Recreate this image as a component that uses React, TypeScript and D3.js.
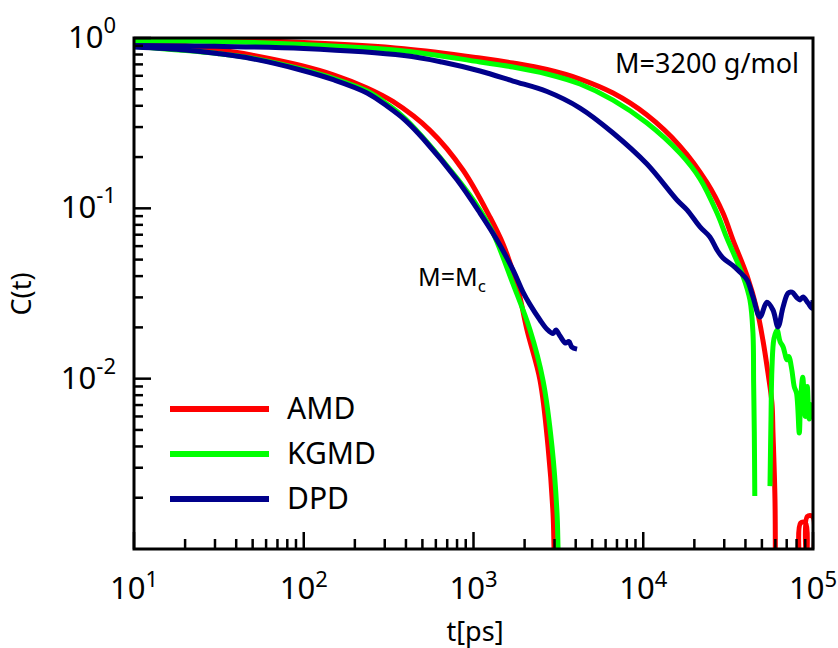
import React from "react";
import * as d3 from "d3";

type Pt = [number, number | null];

// M = Mc set
const amdShort: Pt[] = [
  [10, 0.95], [20, 0.904], [31, 0.856], [49, 0.795], [96, 0.69], [151, 0.606], [236, 0.509],
  [335, 0.424], [554, 0.287], [867, 0.168], [1250, 0.0888], [1492, 0.0617], [1804, 0.0355],
  [2066, 0.0193], [2465, 0.0098], [2748, 0.004], [2940, 0.00163], [2980, 0.00103], [3000, 0.0008],
];
const kgmdShort: Pt[] = [
  [10, 0.891], [31, 0.811], [49, 0.763], [96, 0.658], [151, 0.578], [236, 0.488], [309, 0.41],
  [395, 0.337], [800, 0.15], [1092, 0.0978], [1303, 0.0717], [1709, 0.036], [2153, 0.0193],
  [2566, 0.0098], [2900, 0.004], [3104, 0.00163], [3147, 0.00103], [3170, 0.0008],
];
const dpdShort: Pt[] = [
  [10, 0.885], [20, 0.85], [31, 0.811], [49, 0.758], [96, 0.649], [151, 0.567], [236, 0.476],
  [309, 0.399], [395, 0.33], [504, 0.257], [800, 0.147], [1092, 0.0938], [1375, 0.0652],
  [1709, 0.0435], [1958, 0.0322], [2153, 0.0272], [2465, 0.0221], [2711, 0.0195],
  [2940, 0.0184], [3060, 0.0193], [3234, 0.0178], [3480, 0.0162], [3650, 0.0165],
  [3800, 0.0153], [4074, 0.0149],
];

// M = 3200 g/mol set
const amdLong: Pt[] = [
  [10, 0.985], [30, 0.975], [100, 0.94], [390, 0.865], [1092, 0.763], [1709, 0.713],
  [2711, 0.653], [4240, 0.574], [6640, 0.475], [10520, 0.353], [16450, 0.232], [23800, 0.141],
  [29500, 0.0938], [33800, 0.0651], [40900, 0.0401], [46800, 0.0253], [50700, 0.0168],
  [54300, 0.0108], [57300, 0.0072], [58100, 0.00485], [59700, 0.00197], [60000, 0.0008],
  [70000, null], [83500, 0.0008], [84500, 0.00142], [90500, 0.00142], [91500, 0.0008],
  [92500, 0.00155], [99500, 0.00155], [100000, 0.0008],
];
const kgmdLong: Pt[] = [
  [10, 0.965], [30, 0.955], [100, 0.915], [390, 0.84], [1092, 0.723], [1709, 0.676],
  [2711, 0.615], [4240, 0.537], [6640, 0.432], [10520, 0.317], [16450, 0.211], [21600, 0.149],
  [27200, 0.0938], [31100, 0.0669], [38700, 0.04], [42500, 0.029], [44300, 0.0185],
  [44700, 0.0094], [45100, 0.0049], [45400, 0.00205], [50000, null], [55800, 0.00234],
  [56560, 0.0058], [57300, 0.0115], [58900, 0.0172], [61400, 0.0193], [64000, 0.0165],
  [66600, 0.0154], [70300, 0.0129], [72000, 0.0135], [75000, 0.0113], [77500, 0.009],
  [80000, 0.0082], [83000, 0.0048], [84500, 0.0075], [87000, 0.0102], [90000, 0.006],
  [92500, 0.009], [95000, 0.0058], [98000, 0.0068], [100000, 0.0072],
];
const dpdLong: Pt[] = [
  [10, 0.905], [30, 0.893], [100, 0.868], [390, 0.789], [652, 0.723], [1092, 0.64],
  [1709, 0.559], [2711, 0.485], [4240, 0.388], [6640, 0.277], [10520, 0.182], [15800, 0.112],
  [18100, 0.098], [21600, 0.0778], [24700, 0.0679], [27200, 0.057], [29500, 0.0511],
  [33800, 0.0461], [37200, 0.0421], [40900, 0.038], [44300, 0.0302], [48700, 0.023],
  [53500, 0.0281], [58100, 0.0253], [62200, 0.0201], [66600, 0.0263], [71300, 0.0318],
  [75200, 0.0322], [80600, 0.0298], [83800, 0.029], [87300, 0.0302], [93500, 0.0278],
  [98700, 0.0259], [100000, 0.029],
];

const xTickExps = [1, 2, 3, 4, 5];
const yTickExps = [0, -1, -2];
const legendNames = ["AMD", "KGMD", "DPD"];
const seriesColors = ["#ff0000", "#00ff00", "#00008b"];

const W = 838, H = 648;
const L = 134, R = 813, T = 38, B = 549;
const FONT = "'Noto Sans', 'DejaVu Sans', sans-serif";

export default function App() {
  const x = d3.scaleLog().domain([10, 1e5]).range([L, R]);
  const y = d3.scaleLog().domain([1e-3, 1]).range([B, T]);
  const line = d3
    .line<Pt>()
    .defined((d) => d[1] != null && (d[1] as number) > 0)
    .x((d) => x(d[0]))
    .y((d) => y(d[1] as number))
    .curve(d3.curveCatmullRom.alpha(0.5));

  const series: { data: Pt[]; color: string }[] = [
    { data: amdShort, color: seriesColors[0] },
    { data: amdLong, color: seriesColors[0] },
    { data: kgmdShort, color: seriesColors[1] },
    { data: kgmdLong, color: seriesColors[1] },
    { data: dpdShort, color: seriesColors[2] },
    { data: dpdLong, color: seriesColors[2] },
  ];

  const xMinor: number[] = [];
  for (let e = 1; e < 5; e++) for (let k = 2; k <= 9; k++) xMinor.push(k * Math.pow(10, e));
  const yMinor: number[] = [];
  for (let e = -3; e < 0; e++) for (let k = 2; k <= 9; k++) yMinor.push(k * Math.pow(10, e));

  return (
    <svg width={W} height={H} style={{ position: "absolute", left: 0, top: 0, background: "#fff" }} fontFamily={FONT}>
      <defs>
        <clipPath id="plotclip">
          <rect x={L} y={T} width={R - L} height={B - T} />
        </clipPath>
      </defs>
      <rect x={0} y={0} width={W} height={H} fill="#fff" />
      <g clipPath="url(#plotclip)">
        {series.map((s, i) => (
          <path key={i} d={line(s.data) || ""} fill="none" stroke={s.color} strokeWidth={5} strokeLinejoin="round" />
        ))}
      </g>
      {xMinor.map((v, i) => (
        <line key={"xm" + i} x1={x(v)} x2={x(v)} y1={B} y2={B - 10} stroke="#000" strokeWidth={2.5} />
      ))}
      {xTickExps.map((e) => (
        <line key={"xM" + e} x1={x(Math.pow(10, e))} x2={x(Math.pow(10, e))} y1={B} y2={B - 17} stroke="#000" strokeWidth={2.5} />
      ))}
      {yMinor.map((v, i) => (
        <line key={"ym" + i} x1={L} x2={L + 9} y1={y(v)} y2={y(v)} stroke="#000" strokeWidth={2.5} />
      ))}
      {yTickExps.map((e) => (
        <line key={"yM" + e} x1={L} x2={L + 17} y1={y(Math.pow(10, e))} y2={y(Math.pow(10, e))} stroke="#000" strokeWidth={2.5} />
      ))}
      <rect x={L} y={T} width={R - L} height={B - T} fill="none" stroke="#000" strokeWidth={3} />
      {xTickExps.map((e) => (
        <text key={"xl" + e} x={x(Math.pow(10, e))} y={599} textAnchor="middle" fontSize={31} fill="#000">
          10<tspan dy={-12} fontSize={22}>{e}</tspan>
        </text>
      ))}
      {yTickExps.map((e) => (
        <text key={"yl" + e} x={116} y={y(Math.pow(10, e)) + 10} textAnchor="end" fontSize={31} fill="#000">
          10<tspan dy={-15} fontSize={22}>{e}</tspan>
        </text>
      ))}
      <text x={475} y={641} textAnchor="middle" fontSize={27} fill="#000">t[ps]</text>
      <text transform={`translate(31,294) rotate(-90)`} textAnchor="middle" fontSize={27} fill="#000">C(t)</text>
      <text x={799} y={73} textAnchor="end" fontSize={27} fill="#000">M=3200 g/mol</text>
      <text x={418} y={286} fontSize={25} fill="#000">
        M=M<tspan dy={6} fontSize={17}>c</tspan>
      </text>
      {legendNames.map((n, i) => (
        <g key={n}>
          <line x1={170} x2={269} y1={409 + i * 45} y2={409 + i * 45} stroke={seriesColors[i]} strokeWidth={6} />
          <text x={287} y={419 + i * 45} fontSize={30} fill="#000">{n}</text>
        </g>
      ))}
    </svg>
  );
}
